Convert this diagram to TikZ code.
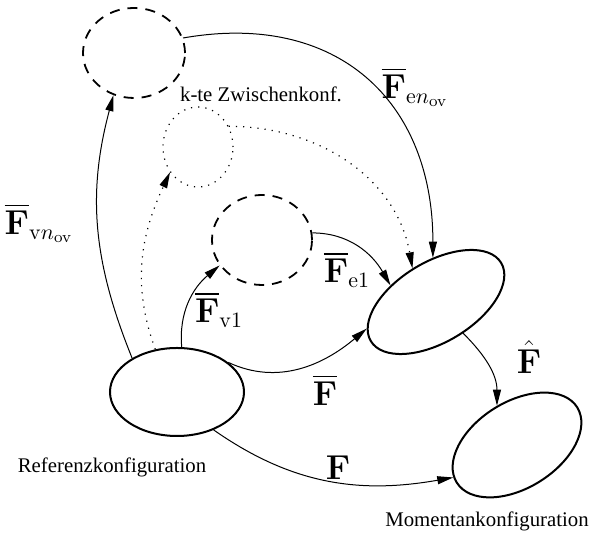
\documentclass[tikz,border=0pt]{standalone}
\usepackage{amsmath}
\usepackage[no-math]{fontspec}
\setmainfont{Liberation Serif}
\usetikzlibrary{shapes.geometric,arrows.meta}

\tikzset{
  conf/.style={ellipse, draw, line width=1pt, inner sep=0pt},
  dashconf/.style={conf, line width=0.9pt, dash pattern=on 5pt off 4pt},
  dotconf/.style={conf, line width=0.6pt, dash pattern=on 0.6pt off 3pt},
  arr/.style={-{Triangle[length=8pt,width=4pt]}, line width=0.5pt},
  dotarr/.style={arr, line width=0.6pt, dash pattern=on 0.6pt off 3pt},
  txt/.style={font=\fontsize{10.4}{12}\selectfont},
  flbl/.style={font=\fontsize{16}{19}\selectfont},
}

\begin{document}
\begin{tikzpicture}[x=0.5pt,y=0.5pt]
  \useasboundingbox (0,0) rectangle (590,539);
  % the configurations
  \node[conf, minimum width=67pt, minimum height=44pt] (ref) at (177,147) {};
  \node[conf, minimum width=76pt, minimum height=40pt, rotate=31] (mid) at (436,237) {};
  \node[conf, minimum width=71pt, minimum height=43pt, rotate=32] (mom) at (517,94) {};
  \node[dashconf, minimum width=51pt, minimum height=45pt] (top) at (134,486) {};
  \node[dotconf, minimum width=35pt, minimum height=40pt] (kte) at (198,392) {};
  \node[dashconf, minimum width=50pt, minimum height=45pt] (first) at (262,299) {};
  % names of the configurations
  \node[txt] (reflbl) at (112,72) {Referenzkonfiguration};
  \node[txt] (momlbl) at (487,18) {Momentankonfiguration};
  \node[txt] (ktelbl) at (261,445) {k-te Zwischenkonf.};
  % the maps
  \draw[arr] (ref.143) to[out=112,in=255] (top.244);
  \draw[dotarr] (ref.117) to[out=110,in=245] (kte.222);
  \draw[arr] (ref.84) to[out=95,in=220] (first.211);
  \draw[arr] (ref.30) to[out=-25,in=220] (mid.170);
  \draw[arr] (ref.314) to[out=-35,in=190] (mom.175);
  \draw[arr] (mid.280) to[out=-45,in=90] (mom.85);
  \draw[arr] (top.17) to[out=10,in=90,looseness=1.2] (mid.63);
  \draw[dotarr] (kte.34) to[out=0,in=100] (mid.94);
  \draw[arr] (first.8) to[out=0,in=120] (mid.129);
  % labels of the maps
  \node[flbl] (fvn) at (39,316) {$\overline{\mathbf{F}}_{\mathrm{v}n_{\mathrm{ov}}}$};
  \node[flbl] (fen) at (415,452) {$\overline{\mathbf{F}}_{\mathrm{e}n_{\mathrm{ov}}}$};
  \node[flbl] (fv1) at (219,229) {$\overline{\mathbf{F}}_{\mathrm{v}1}$};
  \node[flbl] (fe1) at (347,269) {$\overline{\mathbf{F}}_{\mathrm{e}1}$};
  \node[flbl] (fbar) at (325,149) {$\overline{\mathbf{F}}$};
  \node[flbl] (f) at (338,71) {$\mathbf{F}$};
  \node[flbl] (fhat) at (529,182) {$\hat{\mathbf{F}}$};
\end{tikzpicture}
\end{document}
